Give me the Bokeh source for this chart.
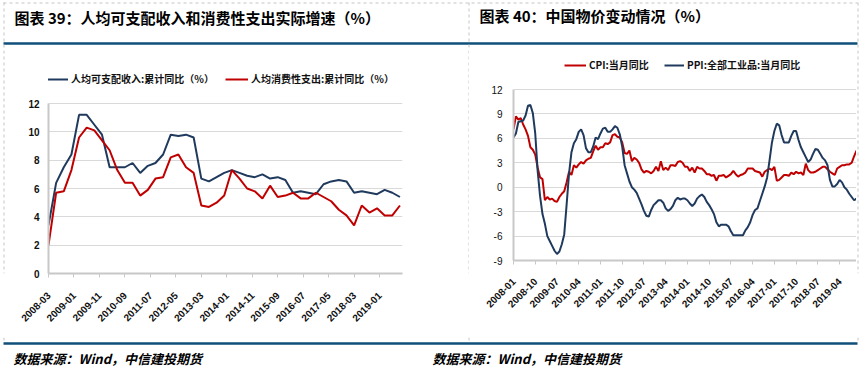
import math
from bokeh.plotting import figure
from bokeh.models import Range1d, FixedTicker, Legend, LegendItem, Spacer
from bokeh.layouts import row, column
from bokeh.embed import file_html
from bokeh.resources import INLINE
from bokeh.core.properties import value

# ---------------- data ----------------
left_title = "图表 39：人均可支配收入和消费性支出实际增速（%）"
right_title = "图表 40：中国物价变动情况（%）"
source_text = "数据来源：Wind，中信建投期货"

left_names = ["人均可支配收入:累计同比（%）", "人均消费性支出:累计同比（%）"]
left_first_period = "2008-03"   # quarterly data
income = [3.4, 6.4, 7.5, 8.4, 11.2, 11.2, 10.5, 9.8, 7.5, 7.5, 7.5, 7.8,
          7.1, 7.6, 7.8, 8.4, 9.8, 9.7, 9.8, 9.6, 6.7, 6.5, 6.8, 7.1,
          7.3, 7.1, 6.9, 6.8, 7.0, 6.7, 6.8, 6.6, 5.7, 5.8, 5.7, 5.6,
          6.3, 6.5, 6.6, 6.5, 5.7, 5.8, 5.7, 5.6, 5.9, 5.7, 5.4]
consumption = [2.0, 5.7, 5.8, 7.3, 9.6, 10.3, 10.1, 9.4, 8.7, 7.3, 6.4, 6.4,
               5.5, 5.9, 6.7, 6.8, 8.2, 8.4, 7.5, 7.1, 4.8, 4.7, 5.0, 5.5,
               7.3, 6.7, 6.0, 5.8, 5.3, 6.2, 5.4, 5.5, 5.7, 5.3, 5.3, 5.7,
               5.4, 5.1, 4.5, 4.1, 3.4, 4.8, 4.3, 4.6, 4.1, 4.1, 4.8]
left_tick_labels = ["2008-03", "2009-01", "2009-11", "2010-09", "2011-07", "2012-05",
                    "2013-03", "2014-01", "2014-11", "2015-09", "2016-07", "2017-05",
                    "2018-03", "2019-01"]
left_y_ticks = [0, 2, 4, 6, 8, 10, 12]

right_names = ["CPI:当月同比", "PPI:全部工业品:当月同比"]
right_first_period = "2008-01"  # monthly data
cpi = [7.1, 8.7, 8.3, 8.5, 7.7, 7.1, 6.3, 4.9, 4.6, 4.0, 2.4, 1.2,
       1.0, -1.6, -1.2, -1.5, -1.4, -1.7, -1.8, -1.2, -0.8, -0.5, 0.6, 1.9,
       1.5, 2.7, 2.4, 2.8, 3.1, 2.9, 3.3, 3.5, 3.6, 4.4, 5.1, 4.6,
       4.9, 4.9, 5.4, 5.3, 5.5, 6.4, 6.5, 6.2, 6.1, 5.5, 4.2, 4.1,
       4.5, 3.2, 3.6, 3.4, 3.0, 2.2, 1.8, 2.0, 1.9, 1.7, 2.0, 2.5,
       2.0, 3.2, 2.1, 2.4, 2.1, 2.7, 2.7, 2.6, 3.1, 3.2, 3.0, 2.5,
       2.5, 2.0, 2.4, 1.8, 2.5, 2.3, 2.3, 2.0, 1.6, 1.6, 1.4, 1.5,
       0.8, 1.4, 1.4, 1.5, 1.2, 1.4, 1.6, 2.0, 1.6, 1.3, 1.5, 1.6,
       1.8, 2.3, 2.3, 2.3, 2.0, 1.9, 1.8, 1.3, 1.9, 2.1, 2.3, 2.1,
       2.5, 0.8, 0.9, 1.2, 1.5, 1.5, 1.4, 1.8, 1.6, 1.9, 1.7, 1.8,
       1.5, 2.9, 2.1, 1.8, 1.8, 1.9, 2.1, 2.3, 2.5, 2.5, 2.2, 1.9,
       1.7, 1.5, 2.3, 2.5, 2.7, 2.7, 2.8, 2.8, 3.0, 3.8, 4.5]
ppi = [6.1, 6.6, 8.0, 8.1, 8.2, 8.8, 10.0, 10.1, 9.1, 6.6, 2.0, -1.1,
       -3.3, -4.5, -6.0, -6.6, -7.2, -7.8, -8.2, -7.9, -7.0, -5.8, -2.1, 1.7,
       4.3, 5.4, 5.9, 6.8, 7.1, 6.4, 4.8, 4.3, 4.3, 5.0, 6.1, 5.9,
       6.6, 7.2, 7.3, 6.8, 6.8, 7.1, 7.5, 7.3, 6.5, 5.0, 2.7, 1.7,
       0.7, 0.0, -0.3, -0.7, -1.4, -2.1, -2.9, -3.5, -3.6, -2.8, -2.2, -1.9,
       -1.6, -1.6, -1.9, -2.6, -2.9, -2.7, -2.3, -1.6, -1.3, -1.5, -1.4, -1.4,
       -1.6, -2.0, -2.3, -2.0, -1.4, -1.1, -0.9, -1.2, -1.8, -2.2, -2.7, -3.3,
       -4.3, -4.8, -4.6, -4.6, -4.6, -4.8, -5.4, -5.9, -5.9, -5.9, -5.9, -5.9,
       -5.3, -4.9, -4.3, -3.4, -2.8, -2.6, -1.7, -0.8, 0.1, 1.2, 3.3, 5.5,
       6.9, 7.8, 7.6, 6.4, 5.5, 5.5, 5.5, 6.3, 6.9, 6.9, 5.8, 4.9,
       4.3, 3.7, 3.1, 3.4, 4.1, 4.7, 4.6, 4.1, 3.6, 3.3, 2.7, 0.9,
       0.1, 0.1, 0.4, 0.9, 0.6, 0.0, -0.3, -0.8, -1.2, -1.6, -1.4]
right_tick_labels = ["2008-01", "2008-10", "2009-07", "2010-04", "2011-01", "2011-10",
                     "2012-07", "2013-04", "2014-01", "2014-10", "2015-07", "2016-04",
                     "2017-01", "2017-10", "2018-07", "2019-04"]
right_y_ticks = [-9, -6, -3, 0, 3, 6, 9, 12]

# ---------------- helpers ----------------
NAVY = "#203a5e"
RED = "#c00000"
HEAD = "#0f4f7a"
GRID = "#d9d9d9"
AXIS = "#c8c8c8"
DASH = "#c4c4c4"
CJK = "Noto Sans CJK SC"
NUM = "Liberation Sans"


def month_index(label):
    y, m = label.split("-")
    return (int(y) - 2008) * 12 + int(m) - 1


def deco(width, height, x0, x1, y0, y1):
    f = figure(width=width, height=height, x_range=Range1d(x0, x1), y_range=Range1d(y1, y0),
               min_border=0, min_border_left=0, min_border_right=0, min_border_top=0,
               min_border_bottom=0, toolbar_location=None, output_backend="svg",
               x_axis_location=None, y_axis_location=None)
    f.xgrid.visible = False
    f.ygrid.visible = False
    f.outline_line_color = None
    f.border_fill_color = "white"
    f.background_fill_color = "white"
    return f


def style_chart(p, y_ticks, x_ticks, x_labels, ybold, x_standoff, y_standoff):
    p.outline_line_color = None
    p.background_fill_color = "white"
    p.border_fill_color = "white"
    p.xgrid.visible = False
    p.ygrid.grid_line_color = GRID
    p.ygrid.grid_line_width = 1
    p.yaxis.ticker = FixedTicker(ticks=y_ticks)
    p.xaxis.ticker = FixedTicker(ticks=x_ticks)
    p.xaxis.major_label_overrides = {t: l for t, l in zip(x_ticks, x_labels)}
    p.yaxis.major_label_overrides = {t: str(t) for t in y_ticks}
    p.yaxis.bounds = (y_ticks[0], y_ticks[-1])
    for ax in (p.xaxis[0], p.yaxis[0]):
        ax.axis_line_color = AXIS
        ax.axis_line_width = 2
        ax.major_tick_line_color = AXIS
        ax.minor_tick_line_color = None
        ax.major_label_text_font = NUM
        ax.major_label_text_font_size = "10px"
        ax.major_label_text_color = "#111111"
    p.yaxis.major_tick_out = 0
    p.yaxis.major_tick_in = 0
    p.xaxis.major_tick_in = 0
    p.xaxis.major_tick_out = 4
    p.xaxis.major_tick_line_width = 1
    p.xaxis.major_label_orientation = math.pi / 4
    p.xaxis.major_label_text_font_style = "bold"
    p.yaxis.major_label_text_font_style = "bold" if ybold else "normal"
    p.xaxis.major_label_standoff = x_standoff
    p.yaxis.major_label_standoff = y_standoff


def add_legend(p, renderer, label, x, y, glyph_width):
    leg = Legend(items=[LegendItem(label=label, renderers=[renderer])],
                 location=(x, y), orientation="horizontal",
                 border_line_color=None, background_fill_alpha=0,
                 padding=0, margin=0, spacing=0,
                 glyph_width=glyph_width, glyph_height=14, label_height=14,
                 label_standoff=3, label_text_font=CJK, label_text_font_size="10px",
                 label_text_font_style="bold", label_text_color="#111111")
    p.add_layout(leg)


W, H = 862, 368
TOP_H = 50
MID_TOP, MID_BOT = 50, 337
MID_H = MID_BOT - MID_TOP
BOT_H = H - MID_BOT
BORDER_BOT = 64                      # same bottom border for both charts
L_FRAME_BOT, R_FRAME_BOT = 273, 260

# ---------------- top header ----------------
top = deco(W, TOP_H, 0, W, 0, TOP_H)
top.text(x=[14], y=[16.5], text=[left_title], text_font=value(CJK), text_font_style="bold",
         text_font_size="15px", text_baseline="middle", text_align="left", text_color="#000000")
top.text(x=[479], y=[14.5], text=[right_title], text_font=value(CJK), text_font_style="bold",
         text_font_size="15px", text_baseline="middle", text_align="left", text_color="#000000")
top.line(x=[3, 857], y=[43, 43], line_color=HEAD, line_width=2.5)
top.line(x=[3, 857], y=[2.5, 2.5], line_color=DASH, line_width=1, line_dash="3 3")
for xd in (3.5, 468.5, 857.5):
    top.line(x=[xd, xd], y=[2, TOP_H], line_color=DASH, line_width=1, line_dash="3 3")

# ---------------- left chart ----------------
lx0 = month_index(left_first_period)
left_x = [lx0 + 3 * i for i in range(len(income))]
left_ticks = [month_index(s) for s in left_tick_labels]
l_unit = (273 - 103) / 12.0          # px per unit
l_fig_h = L_FRAME_BOT + BORDER_BOT - MID_TOP
pl = figure(width=462, height=l_fig_h, x_range=Range1d(left_ticks[0], 141),
            y_range=Range1d(0, (L_FRAME_BOT - MID_TOP) / l_unit),
            min_border_left=43, min_border_right=65, min_border_top=0,
            min_border_bottom=BORDER_BOT,
            toolbar_location=None, output_backend="svg")
style_chart(pl, left_y_ticks, left_ticks, left_tick_labels, True, 16, 9)
r_inc = pl.line(left_x, income, line_color=NAVY, line_width=2)
r_con = pl.line(left_x, consumption, line_color=RED, line_width=2)
add_legend(pl, r_inc, left_names[0], -3, 187, 23)
add_legend(pl, r_con, left_names[1], 177, 187, 23)

# ---------------- dividers ----------------
divl = deco(5, MID_H, 0, 5, MID_TOP, MID_BOT)
divl.line(x=[3.5, 3.5], y=[MID_TOP, MID_BOT], line_color=DASH, line_width=1, line_dash="3 3")
div = deco(2, MID_H, 467, 469, MID_TOP, MID_BOT)
div.line(x=[468.5, 468.5], y=[MID_TOP, MID_BOT], line_color=DASH, line_width=1, line_dash="3 3")
divr = deco(6, MID_H, 856, 862, MID_TOP, MID_BOT)
divr.line(x=[857.5, 857.5], y=[MID_TOP, MID_BOT], line_color=DASH, line_width=1, line_dash="3 3")

# ---------------- right chart ----------------
rx0 = month_index(right_first_period)
right_x = [rx0 + i for i in range(len(cpi))]
right_ticks = [month_index(s) for s in right_tick_labels]
r_unit = (260 - 89) / 21.0           # px per unit
r_fig_h = R_FRAME_BOT + BORDER_BOT - MID_TOP
pr = figure(width=387, height=r_fig_h, x_range=Range1d(right_ticks[0], right_x[-1]),
            y_range=Range1d(right_y_ticks[0], right_y_ticks[0] + (R_FRAME_BOT - MID_TOP) / r_unit),
            min_border_left=44, min_border_right=0, min_border_top=0,
            min_border_bottom=BORDER_BOT,
            toolbar_location=None, output_backend="svg")
style_chart(pr, right_y_ticks, right_ticks, right_tick_labels, False, 15, 11)
r_cpi = pr.line(right_x, cpi, line_color=RED, line_width=2)
r_ppi = pr.line(right_x, ppi, line_color=NAVY, line_width=2)
add_legend(pr, r_cpi, right_names[0], 51, 188, 22)
add_legend(pr, r_ppi, right_names[1], 151, 188, 20)
right_col = column(pr, Spacer(width=387, height=MID_H - r_fig_h))

# ---------------- bottom ----------------
bot = deco(W, BOT_H, 0, W, MID_BOT, H)
bot.line(x=[3, 857], y=[343, 343], line_color=HEAD, line_width=2.5)
for xd in (3.5, 468.5, 857.5):
    bot.line(x=[xd, xd], y=[MID_BOT, 341], line_color=DASH, line_width=1, line_dash="3 3")
bot.text(x=[13, 432], y=[358, 358], text=[source_text, source_text], text_font=value(CJK),
         text_font_style="bold italic", text_font_size="13px", text_baseline="middle",
         text_align="left", text_color="#000000")

layout = column(top, row(divl, pl, div, right_col, divr), bot)
open("out.html", "w").write(file_html(layout, INLINE))
